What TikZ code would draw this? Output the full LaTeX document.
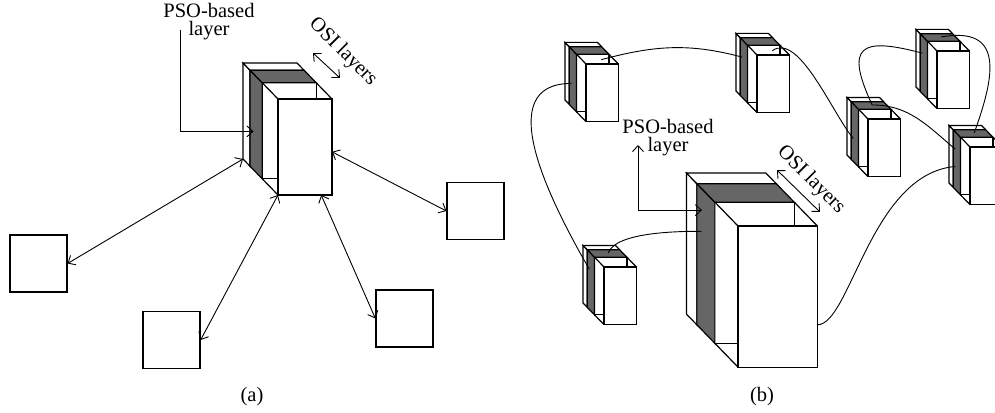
\documentclass[tikz,border=0pt]{standalone}
\usepackage{fontspec}
\setmainfont{Liberation Serif}
\usetikzlibrary{arrows.meta, calc}
\definecolor{psogray}{gray}{0.4}

\newcommand{\osistack}[4]{%
  \begin{scope}[shift={(#2,#3)}, scale=#4]
    \draw[whiteface] (-28,28.8) rectangle (26,-67.2);
    \draw[whiteface] (-35,36) -- (-28,28.8) -- (-28,-67.2) -- (-35,-60) -- cycle;
    \draw[whiteface] (-35,36) -- (19,36) -- (26,28.8) -- (-28,28.8) -- cycle;
    \draw[whiteface] (-15.75,16.2) rectangle (38.25,-79.8);
    \draw[psoface] (-28,28.8) -- (-15.75,16.2) -- (-15.75,-79.8) -- (-28,-67.2) -- cycle;
    \draw[psoface] (-28,28.8) -- (26,28.8) -- (38.25,16.2) -- (-15.75,16.2) -- cycle;
    \draw[slab] (-15.75,16.2) -- (0,0) (38.25,16.2) -- (54,0) (-15.75,-79.8) -- (0,-96);
    \draw[whiteface] (0,0) rectangle (54,-96);
    \coordinate (#1-g1) at (-24.5,10.8);
    \coordinate (#1-g3) at (-24.5,-3.6);
    \coordinate (#1-g6) at (-24.5,-32.4);
    \coordinate (#1-tp) at (6.95,23.4);
    \coordinate (#1-tf) at (25.4,7.2);
    \coordinate (#1-bbl) at (-35,-60);
    \coordinate (#1-fbl) at (0,-96);
    \coordinate (#1-fb) at (43.2,-96);
    \coordinate (#1-fr) at (54,-52.8);
    \coordinate (#1-frl) at (54,-67.2);
  \end{scope}}

\begin{document}
\begin{tikzpicture}[x=1pt, y=1pt,
  slab/.style={draw, line width=1.2pt, line join=miter},
  whiteface/.style={slab, fill=white},
  psoface/.style={slab, fill=psogray},
  peer/.style={draw, line width=1.2pt, minimum size=57pt, inner sep=0pt},
  link/.style={{Straight Barb[length=6pt,width=11pt]}-{Straight Barb[length=6pt,width=11pt]}, line width=0.9pt},
  tip/.style={-{Straight Barb[length=6pt,width=11pt]}, line width=0.9pt},
  wire/.style={line width=0.9pt},
  every node/.style={font=\fontsize{20.5}{18}\selectfont}]
\useasboundingbox (0,0) rectangle (995,-412);
\clip (0,0) rectangle (995,-412);

\osistack{A}{278}{-99}{1}

\node[peer] (p1) at (38.5,-263.5) {};
\node[peer] (p2) at (171.5,-340) {};
\node[peer] (p3) at (404.5,-318.5) {};
\node[peer] (p4) at (475.5,-211) {};

\draw[link] (p1.east) -- (A-bbl);
\draw[link] (p2.east) -- (A-fbl);
\draw[link] (p3.west) -- (A-fb);
\draw[link] (p4.west) -- (A-fr);

\node[align=center, inner sep=0pt] (psoa) at (209,-22) {PSO-based\\layer};
\coordinate (psoa-in) at (180,-30);
\draw[tip] (psoa-in) |- (A-g6);

\node[rotate=-45, inner sep=0pt] (osia) at (343,-52) {OSI layers};
\coordinate (osia-s) at (313,-53);
\coordinate (osia-e) at (340,-78);
\draw[link] (osia-s) -- (osia-e);

\node (capa) at (252,-397) {(a)};

\osistack{B}{738}{-226}{1.47}
\osistack{n1}{586}{-64}{0.6}
\osistack{n2}{757}{-55}{0.6}
\osistack{n3}{868}{-119}{0.6}
\osistack{n4}{937}{-51}{0.6}
\osistack{n5}{970}{-147}{0.6}
\osistack{n6}{604}{-267}{0.6}

\draw[wire] (n1-g6) to[out=180, in=120, looseness=1.1] (n6-g3);
\draw[wire] (n6-tp) to[out=70, in=180, looseness=0.6] (B-g3);
\draw[wire] (n1-tf) to[out=15, in=165] (n2-g3);
\draw[wire] (n2-tf) to[out=35, in=130, looseness=0.7] (n3-g6);
\draw[wire] (n4-g3) to[out=165, in=115, looseness=2.3] (n3-tp);
\draw[wire] (n3-tp) to[out=0, in=140] (n5-g3);
\draw[wire] (n4-tp) to[out=10, in=70, looseness=1.6] (n5-tp);
\draw[wire] (B-frl) to[out=0, in=185, out distance=33pt, in distance=85pt] (n5-g6);

\node[align=center, inner sep=0pt] (psob) at (668,-138) {PSO-based\\layer};
\coordinate (psob-in) at (638,-145);
\draw[link] (psob-in) |- (B-g1);

\node[rotate=-45, inner sep=0pt] (osib) at (811,-180) {OSI layers};
\coordinate (osib-s) at (777,-170);
\coordinate (osib-e) at (820,-212);
\draw[link] (osib-s) -- (osib-e);

\node (capb) at (762,-397) {(b)};
\end{tikzpicture}
\end{document}
